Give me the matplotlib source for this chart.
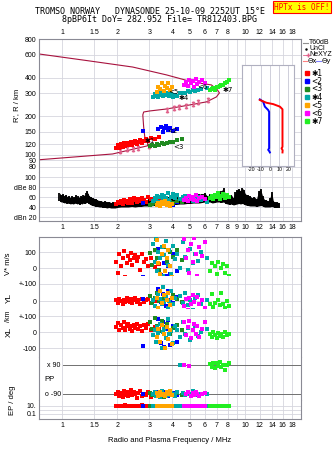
import matplotlib
matplotlib.use('Agg')
import matplotlib.pyplot as plt
from matplotlib.lines import Line2D
from matplotlib.ticker import NullLocator

# frequency axis (MHz)
freq_ticks = [1, 1.5, 2, 3, 4, 5, 6, 7, 8, 9, 10, 12, 14, 16, 18]
top_labels = ['1', '1.5', '2', '3', '4', '5', '6', '7', '8', '', '10', '12', '14', '16', '18']
mid_labels = ['1', '1.5', '2', '3', '4', '5', '6', '7', '8', '9', '10', '12', '14', '16', '18']
range_ticks = [80, 90, 100, 120, 150, 200, 300, 400, 600, 800]

# NeXYZ true height profile (plasma freq, height km)
prof_f = [0.75, 1.89, 2.93, 2.93, 2.83, 2.79, 2.76, 2.79, 3.01, 3.72, 4.97, 6.14,
          6.95, 7.22, 7.04, 6.53, 5.15, 3.72, 2.43, 1.4, 0.75]
prof_r = [91, 101, 117, 125, 137, 164, 204, 215, 219, 227, 244, 258,
          282, 303, 320, 350, 369, 419, 483, 540, 611]
ne_f = [2.07, 2.25, 2.43, 2.59, 2.97, 3.72, 4.06, 4.37, 4.77, 5.15, 5.55, 6.29]
ne_r = [106, 110, 110, 112, 116, 224, 229, 234, 240, 250, 257, 268]

# tilt profiles
tilt_b_deg = [-10.8, -7.2, -5.4, -1.8, -0.8, -0.8, -1.8, -0.5, 0]
tilt_b_r = [270, 259, 237, 223, 216, 112, 109, 106, 104]
tilt_r_deg = [-10.8, -3.6, 3.6, 10.8, 13.6, 13.6, 12.6, 13.8, 13.6]
tilt_r_r = [267, 254, 248, 237, 226, 115, 112, 108, 104]

# noise amplitude (dB): one vertical stroke per frequency
noise_f = [0.97, 0.99, 1.01, 1.03, 1.05, 1.07, 1.09, 1.11, 1.13, 1.15, 1.17, 1.19, 1.21,
           1.23, 1.25, 1.27, 1.29, 1.31, 1.33, 1.35, 1.37, 1.39, 1.41, 1.44, 1.47, 1.5,
           1.53, 1.56, 1.6, 1.64, 1.68, 1.72, 1.76, 1.8, 1.85, 1.9, 1.95, 2.0,
           2.1, 2.2, 2.3, 2.4, 2.5, 2.6, 2.7, 2.8, 2.9, 3.0, 3.2, 3.4, 3.6, 3.8, 4.0,
           4.2, 4.4, 4.6, 4.8, 5.0, 5.2, 5.4, 5.6, 5.8, 6.0,
           6.2, 6.4, 6.6, 6.8, 7.0, 7.2, 7.4, 7.6, 7.8, 8.0, 8.2, 8.4, 8.6, 8.8, 9.0,
           9.2, 9.4, 9.6, 9.8, 10.0, 10.3, 10.6, 10.9, 11.2, 11.5, 11.8, 12.1, 12.4,
           12.7, 13.0, 13.3, 13.6, 13.9, 14.2, 14.5, 14.8, 15.1, 15.3]
noise_hi = [68, 64, 66, 62, 65, 60, 63, 59, 62, 58, 61, 64, 59,
            62, 58, 63, 60, 65, 62, 68, 72, 66, 62, 60, 58, 57,
            56, 54, 53, 52, 51, 52, 50, 51, 49, 50, 49, 50,
            51, 52, 51, 53, 52, 54, 53, 55, 54, 56, 57, 58, 59, 60, 60,
            61, 60, 62, 63, 64, 65, 64, 66, 66, 68,
            62, 66, 61, 64, 70, 66, 72, 78, 64, 62, 60, 64, 58, 70, 74,
            76, 72, 78, 74, 66, 64, 62, 58, 60, 56, 72, 76, 62,
            55, 54, 52, 58, 70, 52, 50, 50, 49, 48]
noise_lo = [52, 50, 50, 48, 49, 47, 48, 46, 47, 46, 47, 48, 46,
            47, 45, 47, 46, 48, 47, 48, 50, 48, 46, 44, 43, 42,
            41, 41, 40, 40, 39, 39, 38, 39, 38, 38, 38, 39,
            40, 40, 40, 41, 40, 41, 41, 42, 42, 42, 43, 43, 44, 44, 45,
            45, 46, 46, 47, 47, 48, 48, 48, 49, 50,
            50, 50, 48, 49, 50, 50, 49, 50, 47, 46, 45, 46, 44, 45, 46,
            47, 46, 47, 46, 44, 43, 42, 42, 42, 41, 42, 43, 42,
            40, 40, 40, 40, 41, 40, 39, 39, 40, 39]

# echo clusters: freq, range, amplitude, V*, YL, XL, PP, EP
red_f = [1.98, 2.02, 2.05, 2.1, 2.14, 2.18, 2.22, 2.26, 2.3, 2.34, 2.38, 2.42,
         2.46, 2.5, 2.55, 2.6, 2.66, 2.72, 2.8, 2.88, 2.95, 3.05, 3.2, 3.4]
red_r = [113, 118, 112, 120, 115, 122, 117, 124, 119, 121, 126, 118,
         123, 128, 121, 125, 130, 124, 128, 133, 127, 135, 133, 138]
red_db = [46, 50, 48, 52, 47, 55, 50, 53, 49, 56, 52, 48, 58, 54, 50, 57, 53, 59, 55, 51, 60, 56, 52, 58]
red_v = [40, -30, 85, 10, 60, 105, -55, 30, 75, 50, 95, 20, 65, 80, 45, 70, -10, 90, 35, 55, 15, 60, 5, 25]
red_yl = [5, -10, 12, 0, -15, 8, -5, 18, 2, -8, 10, -12, 4, 15, -3, 6, -18, 9, -6, 3, 12, -9, 0, 7]
red_xl = [30, 55, 15, 45, 25, 60, 10, 40, 50, 20, 35, 5, 45, 28, 52, 18, 38, 8, 42, 25, 48, 15, 32, 22]
red_pp = [-90, -75, -100, -85, -110, -70, -95, -80, -105, -88, -65, -98,
          -78, -92, -115, -83, -72, -102, -87, -94, -76, -108, -90, -82]
red_ep = [11, 9, 13, 10, 12, 8, 14, 10, 11, 9, 12, 13, 10, 11, 9, 12, 10, 14, 11, 10, 9, 12, 11, 10]

blue_f = [2.78, 3.35, 3.45, 3.55, 3.62, 3.7, 3.8, 3.9, 4.05, 4.25]
blue_r = [152, 158, 165, 150, 162, 168, 155, 160, 152, 158]
blue_db = [48, 50, 46, 52, 49, 54, 47, 51, 45, 50]
blue_v = [-55, 120, -45, -60, 30, -50, 10, -40, 90, -20]
blue_yl = [10, 70, -5, 40, 15, -30, 60, 5, -10, 25]
blue_xl = [-85, 80, -70, 65, -92, 20, 75, -78, 40, -60]
blue_pp = [-90, -80, -100, -85, -95, -75, -105, -90, -82, -98]
blue_ep = [12, 10, 11, 9, 13, 10, 12, 11, 10, 9]

green_f = [3.02, 3.1, 3.2, 3.3, 3.4, 3.5, 3.62, 3.75, 3.9, 4.05, 4.25, 4.5]
green_r = [116, 118, 117, 120, 119, 122, 121, 124, 126, 125, 129, 132]
green_db = [44, 46, 48, 45, 50, 47, 52, 49, 51, 48, 53, 50]
green_v = [95, 20, 110, 60, -15, 85, 130, 40, 100, 70, 115, 50]
green_yl = [30, -10, 15, 45, 0, -20, 20, 5, -15, 35, 10, -5]
green_xl = [60, 20, 85, 40, 5, 70, 30, 50, -10, 25, 45, 15]
green_pp = [-85, -95, -75, -100, -90, -80, -110, -88, -70, -92, -84, -96]
green_ep = [11, 10, 12, 9, 11, 13, 10, 12, 11, 10, 9, 11]

teal_f = [3.15, 3.2, 3.25, 3.3, 3.35, 3.42, 3.5, 3.55, 3.62, 3.7, 3.78, 3.85, 3.95,
          4.05, 4.15, 4.25, 4.4, 4.55, 4.7, 4.85, 5.0, 5.15, 5.3, 5.5, 5.7, 6.2]
teal_r = [282, 295, 288, 300, 284, 305, 292, 286, 298, 290, 302, 287, 296,
          283, 293, 288, 300, 305, 302, 312, 308, 318, 315, 322, 328, 332]
teal_db = [52, 58, 55, 62, 50, 60, 65, 57, 63, 59, 68, 54, 61, 66, 58, 64, 56, 60, 62, 55, 58, 53, 57, 60, 55, 50]
teal_v = [150, 40, 180, -20, 100, 60, 130, -50, 80, 170, 20, 110, -35, 140, 55, 90, 0, 160, 70, -10, 120, 30, 85, 45, 100, 60]
teal_yl = [5, -30, 20, -60, 40, 10, -15, 80, -5, 25, -40, 0, 60, -20, 15, -90, 30, -10, 45, -25, 8, -50, 20, 35, -15, 5]
teal_xl = [-20, 10, -60, 30, -5, 50, -100, 0, 20, -40, 80, -15, 5, -70, 40, 15, -30, 60, -10, 25, -50, 10, 35, -25, 0, 20]
teal_pp = [-90, -80, -100, -95, -85, -110, -70, -88, -92, -105, -78, -96, -84,
           -90, -100, -75, 88, -86, -98, -82, -92, -70, -88, -95, -90, -92]
teal_ep = [10, 11, 12, 9, 11, 10, 13, 10, 11, 12, 10, 9, 11, 10, 12, 11, 10, 13, 10, 11, 9, 12, 10, 11, 10, 11]

orange_f = [3.28, 3.35, 3.42, 3.5, 3.58, 3.65, 3.72, 3.8, 3.9, 4.0]
orange_r = [310, 340, 325, 360, 315, 345, 330, 365, 320, 335]
orange_db = [44, 48, 42, 50, 46, 52, 45, 49, 43, 47]
orange_v = [175, 30, -40, 90, 140, -20, 60, 110, 10, -55]
orange_yl = [20, -40, 60, -10, 35, -70, 5, 45, -25, 15]
orange_xl = [-30, 20, -60, 45, -10, -100, 30, -45, 10, -75]
orange_pp = [-85, -100, -75, -95, -88, -105, -80, -92, -70, -98]
orange_ep = [10, 12, 9, 11, 13, 10, 11, 12, 10, 9]

mag_f = [4.65, 4.75, 4.85, 4.95, 5.05, 5.15, 5.25, 5.35, 5.45, 5.6, 5.8, 6.0]
mag_r = [350, 370, 345, 385, 360, 375, 340, 390, 355, 368, 380, 362]
mag_db = [54, 58, 52, 62, 56, 60, 55, 64, 53, 58, 61, 57]
mag_v = [180, 60, 110, -30, 150, 40, 190, 90, -50, 130, 75, 160]
mag_yl = [-30, 10, -50, 20, -15, 35, -5, -60, 25, -20, 5, -40]
mag_xl = [60, -20, 30, 70, -40, 15, 50, -10, 40, -30, 20, 65]
mag_pp = [90, -90, -80, 85, -100, -85, -95, -75, -88, -105, -92, -82]
mag_ep = [11, 10, 12, 10, 11, 9, 12, 10, 11, 10, 12, 11]

lime_f = [6.4, 6.55, 6.7, 6.85, 7.0, 7.1, 7.25, 7.4, 7.55, 7.7, 7.9, 8.1]
lime_r = [318, 325, 330, 322, 338, 335, 345, 352, 348, 360, 370, 385]
lime_db = [58, 62, 56, 65, 60, 68, 57, 63, 66, 59, 64, 61]
lime_v = [-20, 30, -60, 10, -40, 35, -75, 0, 25, -30, 15, -50]
lime_yl = [-20, 40, -35, -10, -60, 5, -25, 45, -15, -40, 0, -30]
lime_xl = [-10, -30, 0, -20, -35, -5, -25, -15, -30, 0, -20, -10]
lime_pp = [95, 80, 105, 70, 100, 85, 110, 75, 92, 60, 88, 100]
lime_ep = [10, 11, 9, 10, 12, 10, 11, 10, 9, 11, 10, 10]

# cluster labels placed near the traces
tag_text = ['\u27311', '<2', '<3', '\u27314', '<5', '<6', '\u27317']
tag_f = [2.83, 3.77, 4.06, 4.3, 3.81, 5.48, 7.5]
tag_r = [127, 152, 114, 277, 308, 337, 318]

clusters = [
    (red_f, red_r, red_db, red_v, red_yl, red_xl, red_pp, red_ep, '#ff0000'),
    (blue_f, blue_r, blue_db, blue_v, blue_yl, blue_xl, blue_pp, blue_ep, '#0000ff'),
    (green_f, green_r, green_db, green_v, green_yl, green_xl, green_pp, green_ep, '#208a20'),
    (teal_f, teal_r, teal_db, teal_v, teal_yl, teal_xl, teal_pp, teal_ep, '#00a8a8'),
    (orange_f, orange_r, orange_db, orange_v, orange_yl, orange_xl, orange_pp, orange_ep, '#ffa500'),
    (mag_f, mag_r, mag_db, mag_v, mag_yl, mag_xl, mag_pp, mag_ep, '#ff00ff'),
    (lime_f, lime_r, lime_db, lime_v, lime_yl, lime_xl, lime_pp, lime_ep, '#22ee22'),
]

plt.rcParams['font.family'] = ['Liberation Sans', 'DejaVu Sans']
plt.rcParams['axes.unicode_minus'] = False
W, H = 335.0, 451.0
GRID = '#d6d6de'
FRAME = '#8a8a94'
FS = 5
MS = 5


def box(x0, y0, x1, y1):
    return [x0 / W, 1 - y1 / H, (x1 - x0) / W, (y1 - y0) / H]


def px(x, y):
    return x / W, 1 - y / H


def setup(ax, labels=None, top=False):
    ax.set_xscale('log')
    ax.set_xlim(0.75, 20.1)
    ax.set_xticks(freq_ticks)
    ax.xaxis.set_minor_locator(NullLocator())
    ax.set_xticklabels(labels if labels is not None else [''] * len(freq_ticks))
    ax.tick_params(length=0, labelsize=FS, pad=2)
    if top:
        ax.xaxis.tick_top()
    ax.grid(True, color=GRID, lw=0.6)
    ax.set_axisbelow(True)
    for s in ax.spines.values():
        s.set_color(FRAME)
        s.set_linewidth(0.8)


fig = plt.figure(figsize=(3.35, 4.51), dpi=100)

# ---- virtual height panel
axR = fig.add_axes(box(39, 39, 301, 172))
setup(axR, top_labels, top=True)
axR.set_yscale('log')
axR.set_ylim(73, 800)
axR.set_yticks(range_ticks)
axR.yaxis.set_minor_locator(NullLocator())
axR.set_yticklabels([str(t) for t in range_ticks])
axR.spines['bottom'].set_visible(False)
axR.set_ylabel("R', R / km", fontsize=5.5, labelpad=3)

axR.plot(prof_f, prof_r, color='#a8123e', lw=0.8, zorder=2)
axR.plot(ne_f, ne_r, ls='none', marker=r'$\mathtt{I}$', ms=3.5, color='#e0608a', zorder=3)
for c in clusters:
    axR.scatter(c[0], c[1], s=MS, marker='s', color=c[8], lw=0, zorder=4)
for t, f, r in zip(tag_text, tag_f, tag_r):
    axR.text(f, r, t, fontsize=5, color='black', va='center', ha='left', zorder=5,
             family=['DejaVu Sans'])

# ---- tilt inset
axT = fig.add_axes(box(242, 65, 294, 166))
axT.set_facecolor('white')
axT.set_yscale('log')
axT.set_ylim(81.5, 501)
axT.set_xlim(-30, 26)
axT.yaxis.set_minor_locator(NullLocator())
axT.set_yticks([])
axT.set_xticks([-20, -10, 0, 10, 20])
axT.tick_params(length=0, labelsize=3.8, pad=1)
axT.grid(True, axis='x', color='#c8c8d4', lw=0.6)
for s in axT.spines.values():
    s.set_color('#b0b0c0')
    s.set_linewidth(0.8)
axT.plot(tilt_b_deg, tilt_b_r, color='#0000ff', lw=1.4)
axT.plot(tilt_r_deg, tilt_r_r, color='#ff0000', lw=1.4)
axT.set_xlabel('Tilt / deg', fontsize=4, labelpad=0)

# ---- amplitude panel
axA = fig.add_axes(box(39, 172, 301, 221))
setup(axA, mid_labels)
axA.set_ylim(12, 110)
axA.set_yticks([20, 40, 60, 80, 100])
axA.set_yticklabels(['dBn 20', '40', '60', 'dBe 80', '100'])
axA.spines['top'].set_visible(False)
axA.fill_between(noise_f, noise_lo, noise_hi, color='black', lw=0, zorder=2)
axA.vlines(noise_f, noise_lo, noise_hi, color='black', lw=1.3, zorder=2)
for c in clusters:
    axA.scatter(c[0], c[2], s=MS, marker='s', color=c[8], lw=0, zorder=4)

# ---- lower stacked panels
axV = fig.add_axes(box(39, 237, 301, 276))
axY = fig.add_axes(box(39, 276, 301, 309))
axX = fig.add_axes(box(39, 309, 301, 357))
axP = fig.add_axes(box(39, 357, 301, 400))
axE = fig.add_axes(box(39, 400, 301, 419))
lower = [axV, axY, axX, axP, axE]
for i, ax in enumerate(lower):
    setup(ax, top_labels if ax is axE else None)
    if i > 0:
        ax.spines['top'].set_visible(False)
    if i < len(lower) - 1:
        ax.spines['bottom'].set_visible(False)

axV.set_ylim(-50, 194)
axV.set_yticks([0, 100])
axV.set_yticklabels(['0', '100'])
axY.set_ylim(-47, 147)
axY.set_yticks([0, 100])
axY.set_yticklabels(['0', '+-100'])
axX.set_ylim(-156, 144)
axX.set_yticks([-100, 0, 100])
axX.set_yticklabels(['-100', '0', '+-100'])
axP.set_ylim(-127, 140)
axP.set_yticks([])
x0_frac = (63 - 39) / 262.0
for v, lab in ((90, 'x 90'), (-90, 'o -90')):
    axP.axhline(v, xmin=x0_frac, color='#707070', lw=0.7, zorder=1)
    axP.text(0.985, v, lab, fontsize=FS, ha='right', va='center')
axP.text(0.8, 0, 'PP', fontsize=5.5, ha='left', va='center')
axE.set_yscale('log')
axE.set_ylim(10 ** -2.25, 10 ** 2.5)
axE.set_yticks([0.1, 1, 10])
axE.yaxis.set_minor_locator(NullLocator())
axE.set_yticklabels(['0.1', '', '10.'])
axE.set_xlabel('Radio and Plasma Frequency / MHz', fontsize=5.5, labelpad=6)

for c in clusters:
    for ax, vals in zip(lower, c[3:8]):
        ax.scatter(c[0], vals, s=MS, marker='s', color=c[8], lw=0, zorder=4)

# side labels of the lower panels
fig.text(*px(9, 264), 'V* m/s', rotation=90, fontsize=5.5, ha='center', va='center')
fig.text(*px(9, 298), 'YL', rotation=90, fontsize=6, ha='center', va='center')
fig.text(*px(9, 316), '/km', rotation=90, fontsize=5, ha='center', va='center')
fig.text(*px(9, 332), 'XL', rotation=90, fontsize=6, ha='center', va='center')
fig.text(*px(13, 400), 'EP / deg', rotation=90, fontsize=5.5, ha='center', va='center')

# ---- titles
fig.text(*px(150, 12), 'TROMSO NORWAY   DYNASONDE 25-10-09 2252UT 15\u00b0E',
         family='DejaVu Sans Mono', fontsize=6, ha='center', va='center')
fig.text(*px(160, 20), '8pBP6It DoY= 282.952 File= TR812403.BPG',
         family='DejaVu Sans Mono', fontsize=6, ha='center', va='center')
fig.text(*px(302, 7), 'HPTx is OFF!', family='DejaVu Sans Mono', fontsize=5.5,
         color='#ff0000', ha='center', va='center',
         bbox=dict(boxstyle='square,pad=0.2', fc='#ffff00', ec='#ff0000', lw=0.8))


# ---- legend on the right
def seg(x0, x1, y, **kw):
    fig.add_artist(Line2D([x0 / W, x1 / W], [1 - y / H, 1 - y / H], **kw))


seg(303, 308, 43, color='#909090', lw=0.8)
fig.text(*px(309, 43), 'T60dB', fontsize=FS, va='center')
fig.add_artist(Line2D([305.5 / W], [1 - 49 / H], marker='.', ms=1.5, color='black'))
fig.text(*px(309, 49), 'UnCl', fontsize=FS, va='center')
seg(303, 308, 55, color='#e0608a', lw=0.6, marker='+', ms=3, markevery=[1])
fig.text(*px(309, 55), 'NeXYZ', fontsize=FS, va='center')
seg(303, 307, 61, color='#ff8080', lw=0.8)
fig.text(*px(308, 61), '\u0398x', fontsize=FS, va='center', family=['DejaVu Sans'])
seg(316, 321, 61, color='#8080ff', lw=0.8)
fig.text(*px(322, 61), '\u0398y', fontsize=FS, va='center', family=['DejaVu Sans'])

leg_y = [73, 81, 89, 97, 105, 113, 121]
for c, t, y in zip(clusters, tag_text, leg_y):
    fig.add_artist(Line2D([307 / W], [1 - y / H], marker='s', ms=2.2, color=c[8], lw=0))
    fig.text(*px(311, y), t, fontsize=5.5, va='center', family=['DejaVu Sans'])

fig.savefig('out.png', dpi=100)
